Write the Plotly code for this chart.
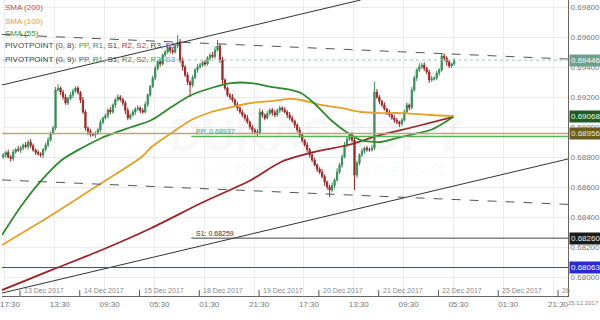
import plotly.graph_objects as go

# ---------------- data (price units: 1e-5 above 0.68000) ----------------
BASE = 0.68
closes = [813,830,800,790,833,850,845,860,880,870,
          900,875,847,830,820,813,850,880,913,960,
          993,1247,1260,1233,1200,1160,1190,1213,1240,1260,
          1230,1180,1100,993,970,950,947,960,980,1030,
          1060,1075,1113,1100,1147,1180,1200,1185,1160,1110,
          1060,1080,1100,1120,1127,1110,1100,1150,1213,1270,
          1327,1390,1433,1420,1480,1500,1527,1510,1500,1540,
          1567,1447,1400,1347,1300,1280,1330,1380,1400,1413,
          1430,1420,1460,1480,1470,1513,1540,1447,1313,1260,
          1213,1200,1180,1150,1127,1100,1080,1060,1033,1000,
          980,965,960,1100,1080,1060,1090,1113,1095,1080,
          1110,1127,1115,1100,1080,1060,1040,1013,980,947,
          910,880,850,813,780,747,720,700,670,633,
          600,580,610,647,700,747,800,880,920,947,
          913,680,760,813,840,860,850,847,860,1233,
          1200,1170,1147,1120,1100,1080,1060,1045,1033,1020,
          1047,1100,1147,1130,1247,1327,1380,1400,1413,1390,
          1367,1313,1320,1327,1360,1380,1473,1460,1433,1407,
          1420,1446]
first_open = 800
wick_up = [15,10,20,12,18,10,25,15,10,20,
           12,20,15,10,18,12,10,15,20,10,
           15,20,25,10,15,20,12,18,15,10,
           12,10,20,15,10,18,12,10,15,20,
           10,15,12,20,10,15,18,12,10,15,
           20,10,15,12,18,10,15,20,12,10,
           15,18,12,20,10,15,25,12,18,15,
           46,20,15,12,18,10,15,12,20,15,
           10,18,12,15,20,25,40,15,20,12,
           10,15,20,12,18,10,15,12,20,10,
           15,12,20,25,15,10,18,12,15,20,
           12,15,10,18,12,20,15,10,12,18,
           15,10,20,12,18,15,10,12,20,15,
           10,15,20,12,25,15,18,20,12,15,
           20,25,15,12,18,10,15,12,20,67,
           20,15,12,18,10,15,12,20,15,10,
           12,15,18,10,20,15,12,25,15,18,
           12,15,20,10,15,12,15,18,12,15,
           10,12]
wick_dn = [12,18,10,20,15,12,10,18,15,12,
           20,15,12,18,10,15,20,12,15,10,
           12,15,10,20,18,12,15,10,20,12,
           15,20,12,18,25,15,10,20,12,15,
           12,10,18,15,12,20,10,15,18,25,
           15,12,10,20,15,18,12,10,15,12,
           10,15,12,18,10,15,12,20,15,10,
           15,20,25,15,20,80,15,12,18,10,
           12,15,10,18,12,15,10,20,25,15,
           12,18,15,10,20,12,15,18,12,15,
           20,15,25,12,18,15,10,12,20,15,
           12,18,15,10,20,15,12,18,15,20,
           15,12,20,18,15,10,20,15,12,25,
           18,47,15,20,12,15,18,10,15,12,
           15,100,20,15,12,18,15,12,10,15,
           12,18,15,10,20,15,12,18,15,20,
           15,12,10,18,15,12,20,15,12,18,
           15,20,12,10,15,18,12,20,25,15,
           12,10]

# moving averages (hour position, price units)
sma55_h = [0,8,16,24,32,40,44,52,60,68,76,84,92,100,108,116,120,125.2,132,138.8,144,152,158.8,165.2,172,176,181.2]
sma55_u = [280,480,647,780,860,927,953,1000,1047,1133,1213,1260,1293,1293,1267,1247,1227,1160,1047,960,913,900,927,953,980,1013,1068]
sma100_h = [0,20,40,56,60,68,76,84,92,100,108,116,120,128,136,144,152,160,172,181.2]
sma100_u = [213,413,627,800,867,960,1047,1100,1133,1160,1173,1187,1180,1147,1127,1100,1093,1093,1080,1073]
sma200_h = [0,20,40,60,80,100,112,125.2,138.8,152,165.2,181.2]
sma200_u = [-87,47,180,327,493,647,767,833,880,947,1000,1067]

# trend lines: (h0, u0, h1, u1)
trend_solid = [(0, 1280, 144, 1847), (0, -107, 227.2, 787)]
trend_dash = [(0, 1617, 227.2, 1453), (0, 647, 227.2, 484)]

# horizontal levels
last_price = 0.69446
lvl_tan = 0.68956
lvl_pp = 0.68937
lvl_s1 = 0.68259
lvl_blue = 0.68063
pivot_start_h = 76

right_labels = [("0.69446", 0.69446, "#6fa08e", "#ffffff"),
                ("0.69068", 0.69068, "#215a24", "#e8ffe8"),
                ("0.68956", 0.68956, "#6b5c1e", "#f2ead0"),
                ("0.68260", 0.68260, "#1b1b1b", "#f0f0f0"),
                ("0.68063", 0.68063, "#2a2ad0", "#ffffff")]

y_ticks = [0.680, 0.682, 0.684, 0.686, 0.688, 0.690, 0.692, 0.694, 0.696, 0.698]
time_tick_h = [1.2 + 20 * k for k in range(12)]
time_labels = ["17:30","13:30","09:30","05:30","01:30","21:30","17:30","13:30","09:30","05:30","01:30","21:30"]
day_tick_h = [7.2 + 24 * k for k in range(10)]
day_labels = ["13 Dec 2017","14 Dec 2017","15 Dec 2017","18 Dec 2017","19 Dec 2017",
              "20 Dec 2017","21 Dec 2017","22 Dec 2017","25 Dec 2017","26"]

X_MAX = 227.2
Y_MIN, Y_MAX = 0.678733, 0.698467

def p(u):
    return BASE + u / 1e5

# ---------------- build OHLC ----------------
n = len(closes)
hours = [i + 0.5 for i in range(n)]
opens = [first_open] + closes[:-1]
highs = [max(o, c) + w for o, c, w in zip(opens, closes, wick_up)]
lows = [min(o, c) - w for o, c, w in zip(opens, closes, wick_dn)]

UP = "#3b8d5b"
DN = "#9a2b2b"

fig = go.Figure()

fig.add_trace(go.Candlestick(
    x=hours, open=[p(v) for v in opens], high=[p(v) for v in highs],
    low=[p(v) for v in lows], close=[p(v) for v in closes],
    increasing=dict(line=dict(color=UP, width=1), fillcolor=UP),
    decreasing=dict(line=dict(color=DN, width=1), fillcolor=DN),
    whiskerwidth=0, showlegend=False, hoverinfo="skip"))

for hx, uy, col in [(sma200_h, sma200_u, "#9b2626"),
                    (sma100_h, sma100_u, "#e3a227"),
                    (sma55_h, sma55_u, "#2f8a2f")]:
    fig.add_trace(go.Scatter(x=hx, y=[p(v) for v in uy], mode="lines",
                             line=dict(color=col, width=1.8, shape="spline", smoothing=0.8),
                             showlegend=False, hoverinfo="skip"))

shapes = []
for h0, u0, h1, u1 in trend_solid:
    shapes.append(dict(type="line", xref="x", yref="y", x0=h0, y0=p(u0), x1=h1, y1=p(u1),
                       line=dict(color="#333333", width=1)))
for h0, u0, h1, u1 in trend_dash:
    shapes.append(dict(type="line", xref="x", yref="y", x0=h0, y0=p(u0), x1=h1, y1=p(u1),
                       line=dict(color="#555555", width=1, dash="dash")))

shapes.append(dict(type="line", xref="x", yref="y", x0=0, x1=X_MAX, y0=last_price, y1=last_price,
                   line=dict(color="#9cc8b8", width=1, dash="dot")))
shapes.append(dict(type="line", xref="x", yref="y", x0=0, x1=X_MAX, y0=lvl_tan, y1=lvl_tan,
                   line=dict(color="#b6a985", width=1.5)))
shapes.append(dict(type="line", xref="x", yref="y", x0=pivot_start_h, x1=X_MAX, y0=lvl_pp, y1=lvl_pp,
                   line=dict(color="#55b455", width=1.5)))
shapes.append(dict(type="line", xref="x", yref="y", x0=pivot_start_h, x1=X_MAX, y0=lvl_s1, y1=lvl_s1,
                   line=dict(color="#444444", width=1)))
shapes.append(dict(type="line", xref="x", yref="y", x0=0, x1=X_MAX, y0=lvl_blue, y1=lvl_blue,
                   line=dict(color="#3a3acc", width=1)))
for dh in day_tick_h:
    shapes.append(dict(type="line", xref="x", yref="paper", x0=dh, x1=dh, y0=0, y1=0.02,
                       line=dict(color="#555555", width=1)))

ann = []
# watermark
ann.append(dict(text="<b>DUKASCOPY</b>", xref="paper", yref="paper", x=0.555, y=0.545,
                showarrow=False, font=dict(size=46, color="rgba(150,150,150,0.07)", family="Liberation Sans")))
ann.append(dict(text="SWISS FOREX BANK &amp; ECN MARKETPLACE", xref="paper", yref="paper", x=0.56, y=0.42,
                showarrow=False, font=dict(size=12, color="rgba(150,150,150,0.07)", family="Liberation Sans")))

# legend texts
F = "Liberation Sans"
leg = [
    ('<span style="color:#b5524a">SMA (200)</span>', 8),
    ('<span style="color:#e0a030">SMA (100)</span>', 21),
    ('<span style="color:#3d8b3d">SMA (55)</span>', 33),
    ('PIVOTPOINT (0, 8): <span style="color:#3aa83a">PP</span>, <span style="color:#2a8a8a">R1</span>, S1, '
     '<span style="color:#c0304a">R2</span>, <span style="color:#d0306a">S2</span>, R3, '
     '<span style="color:#6a4ac0">S3</span>', 46),
    ('PIVOTPOINT (0, 9): <span style="color:#5050d0">PP</span>, <span style="color:#3a8a5a">R1</span>, S1, '
     '<span style="color:#5a8a5a">R2</span>, <span style="color:#8a4ac0">S2</span>, '
     '<span style="color:#3aa83a">R3</span>, <span style="color:#3a9aaa">S3</span>', 59),
]
for txt, ypix in leg:
    ann.append(dict(text=txt, xref="paper", yref="paper", x=0, xanchor="left", xshift=1,
                    y=1 - ypix / 296, yanchor="middle", showarrow=False,
                    font=dict(size=8, color="#444444", family=F)))

# pivot labels
ann.append(dict(text="PP: 0.68937", xref="x", yref="y", x=pivot_start_h + 1, y=lvl_pp,
                xanchor="left", yanchor="bottom", showarrow=False, yshift=-1,
                font=dict(size=7, color="#3aa83a", family=F)))
ann.append(dict(text="S1: 0.68259", xref="x", yref="y", x=pivot_start_h + 1, y=lvl_s1,
                xanchor="left", yanchor="bottom", showarrow=False, yshift=-1,
                font=dict(size=7, color="#333333", family=F)))

# right value labels
for txt, val, bg, fc in right_labels:
    ann.append(dict(text=txt, xref="paper", yref="y", x=1, xanchor="left", xshift=1, y=val,
                    yanchor="middle", showarrow=False, bgcolor=bg, borderpad=1,
                    font=dict(size=8, color=fc, family=F)))

# day labels
for dh, lab in zip(day_tick_h, day_labels):
    ann.append(dict(text=lab, xref="x", yref="paper", x=dh, y=0, xanchor="left", yanchor="bottom",
                    xshift=2, yshift=0, showarrow=False, font=dict(size=7, color="#888888", family=F)))
ann.append(dict(text="25.12.2017", xref="paper", yref="paper", x=1, y=0, xanchor="left", yanchor="top",
                xshift=-1, yshift=-3, showarrow=False, borderpad=0,
                font=dict(size=6, color="#888888", family=F)))

fig.update_layout(
    width=600, height=320, margin=dict(l=0, r=32, t=0, b=24),
    paper_bgcolor="white", plot_bgcolor="white", showlegend=False,
    shapes=shapes, annotations=ann,
    xaxis=dict(range=[0, X_MAX], tickvals=time_tick_h, ticktext=time_labels,
               showgrid=True, gridcolor="#ececec", gridwidth=1, showline=True, linecolor="#666666",
               ticks="", tickfont=dict(size=8, color="#777777", family=F), ticklabelshift=5,
               ticklabeloverflow="allow",
               zeroline=False, rangeslider=dict(visible=False), fixedrange=True),
    yaxis=dict(range=[Y_MIN, Y_MAX], side="right", tickvals=y_ticks,
               ticktext=["%.5f" % v for v in y_ticks],
               showgrid=True, gridcolor="#ececec", showline=True, linecolor="#666666",
               ticks="", tickfont=dict(size=8, color="#777777", family=F), zeroline=False),
)

fig.write_html("out.html")
